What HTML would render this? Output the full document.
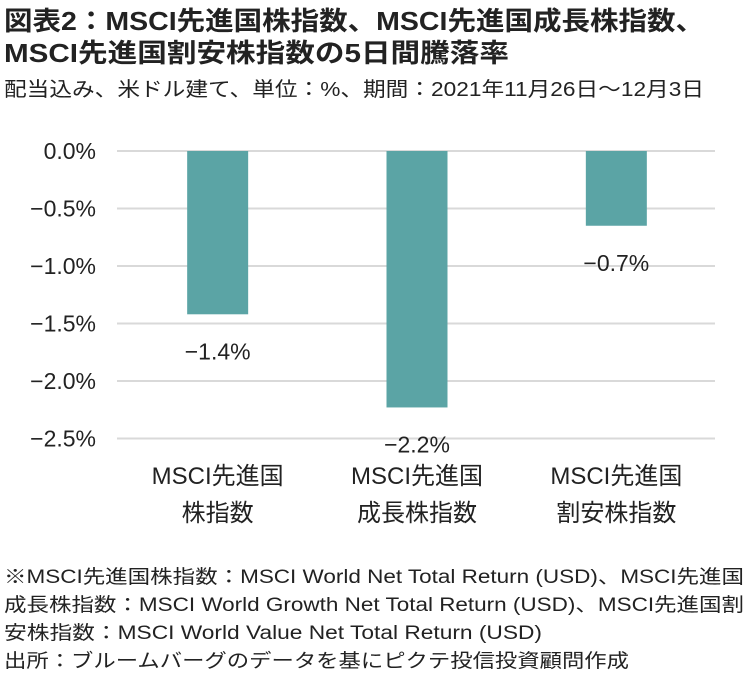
<!DOCTYPE html>
<html><head><meta charset="utf-8"><style>
body{margin:0;background:#fff;}
svg text{font-family:"Liberation Sans","Noto Sans CJK JP",sans-serif;fill:#222;}
</style></head><body>
<svg width="753" height="681" viewBox="0 0 753 681">
<text x="4" y="30" font-size="26" font-weight="bold" textLength="700" lengthAdjust="spacingAndGlyphs">図表2：MSCI先進国株指数、MSCI先進国成長株指数、</text>
<text x="4" y="62" font-size="26" font-weight="bold" textLength="505" lengthAdjust="spacingAndGlyphs">MSCI先進国割安株指数の5日間騰落率</text>
<text x="4" y="96" font-size="20" textLength="700" lengthAdjust="spacingAndGlyphs">配当込み、米ドル建て、単位：%、期間：2021年11月26日～12月3日</text>
<g id="grid"></g>
<g id="yaxis"></g>
<g id="bars"></g>
<g id="xaxis"></g>
<g font-size="19">
<text x="4" y="583" textLength="740" lengthAdjust="spacingAndGlyphs">※MSCI先進国株指数：MSCI World Net Total Return (USD)、MSCI先進国</text>
<text x="4" y="611" textLength="740" lengthAdjust="spacingAndGlyphs">成長株指数：MSCI World Growth Net Total Return (USD)、MSCI先進国割</text>
<text x="4" y="639" textLength="538" lengthAdjust="spacingAndGlyphs">安株指数：MSCI World Value Net Total Return (USD)</text>
<text x="4" y="667" textLength="625" lengthAdjust="spacingAndGlyphs">出所：ブルームバーグのデータを基にピクテ投信投資顧問作成</text>
</g>
</svg>
<script>
const categories=[["MSCI先進国","株指数"],["MSCI先進国","成長株指数"],["MSCI先進国","割安株指数"]];
const values=[-1.42,-2.23,-0.65];
const valueLabels=["−1.4%","−2.2%","−0.7%"];
const ticks=[0,-0.5,-1,-1.5,-2,-2.5];
const tickLabels=["0.0%","−0.5%","−1.0%","−1.5%","−2.0%","−2.5%"];
const NS="http://www.w3.org/2000/svg";
const y0=151,pxPer=115,left=117,right=715;
const yS=v=>y0-v*pxPer;
const band=(right-left)/categories.length;
const xC=i=>left+band*(i+0.5)+1;
function mk(t,a,p){const e=document.createElementNS(NS,t);for(const k in a)e.setAttribute(k,a[k]);p.appendChild(e);return e;}
const g=document.getElementById('grid'),ya=document.getElementById('yaxis'),b=document.getElementById('bars'),xa=document.getElementById('xaxis');
ticks.forEach((t,i)=>{
 const l=mk('line',{x1:left,x2:right,y1:yS(t),y2:yS(t),stroke:'#d9d9d9','stroke-width':2},g);
 
 
 const tx=mk('text',{x:96,y:yS(t)+8,'text-anchor':'end','font-size':23},ya);
 tx.textContent=tickLabels[i];
 
 
});
values.forEach((v,i)=>{
 const w=61,x=xC(i)-w/2;
 const r=mk('rect',{x:x,y:yS(0),width:w,height:yS(v)-yS(0),fill:'#5ba4a5'},b);
 
 
 const t=mk('text',{x:xC(i),y:yS(v)+45,'text-anchor':'middle','font-size':23},b);
 t.textContent=valueLabels[i];
 
 
 categories[i].forEach((s,j)=>{
  const c=mk('text',{x:xC(i),y:484+j*37,'text-anchor':'middle','font-size':24},xa);
  c.textContent=s;
  
  
 });
});
</script>
</body></html>
